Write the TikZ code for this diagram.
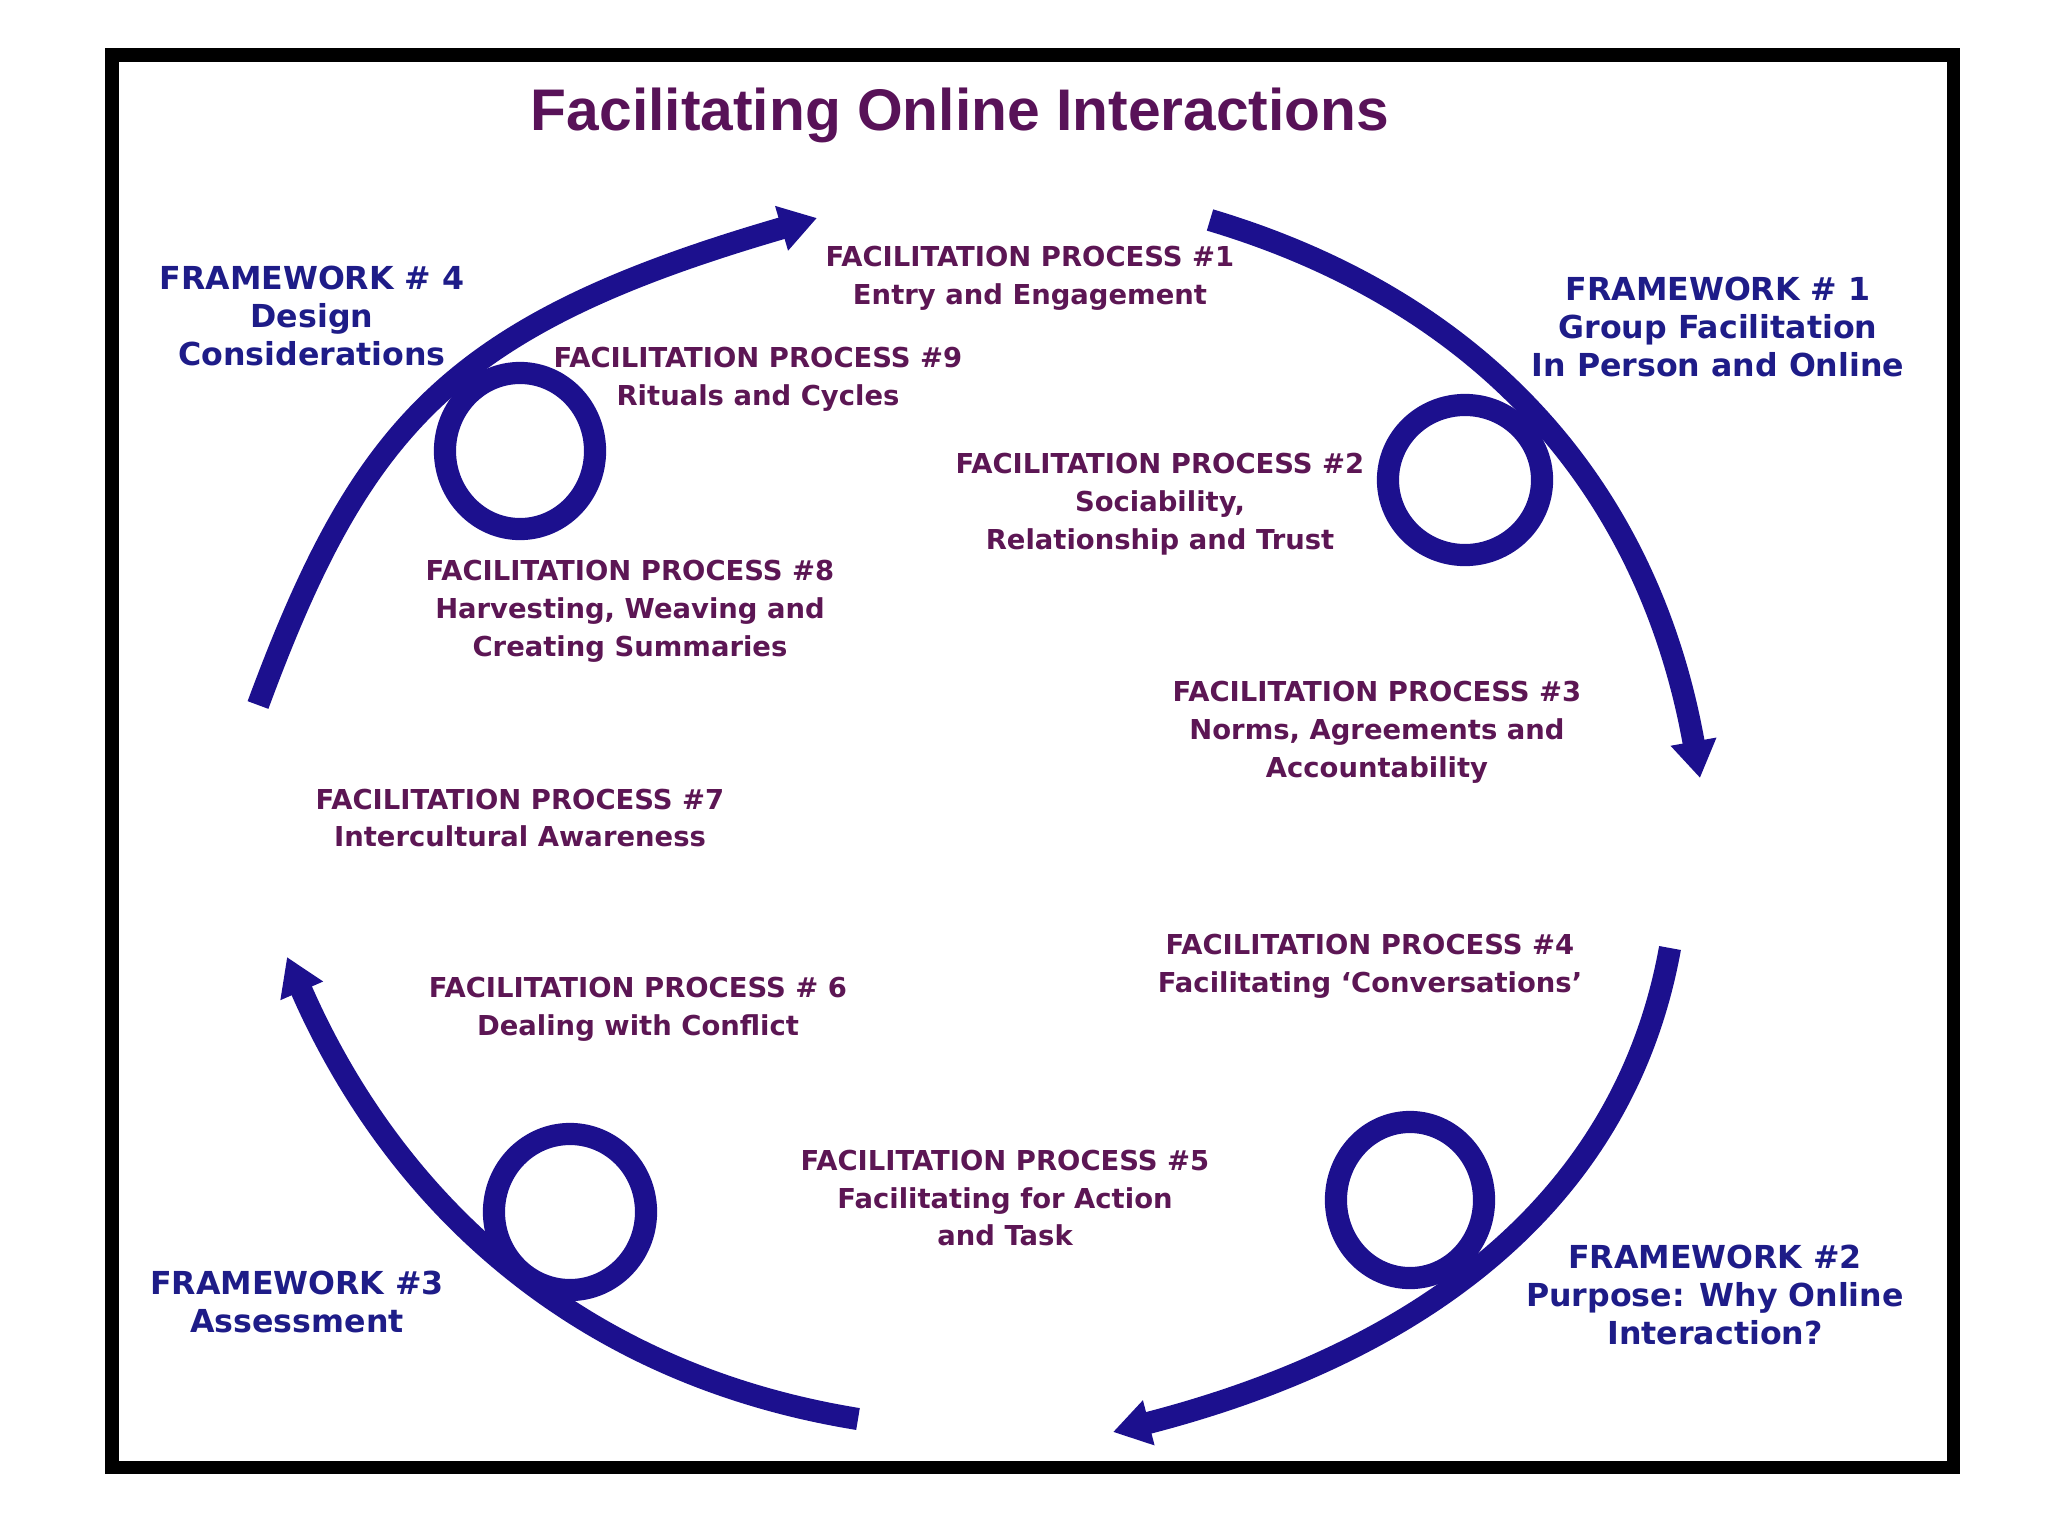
\documentclass[tikz,border=0pt]{standalone}
\usepackage{fontspec}
\usetikzlibrary{arrows.meta}
\newfontfamily\titlefont{Liberation Sans}
\newfontfamily\labelfont{DejaVu Sans}
\definecolor{ringblue}{RGB}{28,16,142}
\definecolor{fwblue}{RGB}{30,28,136}
\definecolor{procpurple}{RGB}{92,22,84}
\definecolor{titlepurple}{RGB}{88,18,88}

\begin{document}
\begin{tikzpicture}[x=0.01cm, y=-0.01cm,
        ring/.style={draw=ringblue, line width=6.3pt},
        ringarrow/.style={ring, -{Triangle[length=10.5pt, width=12.5pt]}},
        frame/.style={draw=black, line width=3.7pt},
        fw/.style={align=center, inner sep=0pt, text=fwblue, font=\labelfont\bfseries\fontsize{9pt}{10.7pt}\selectfont},
        proc/.style={align=center, inner sep=0pt, text=procpurple, font=\labelfont\bfseries\fontsize{7.8pt}{10.8pt}\selectfont},
        heading/.style={inner sep=0pt, text=titlepurple, font=\titlefont\bfseries\fontsize{16.7pt}{20pt}\selectfont}
    ]
        \useasboundingbox (0,0) rectangle (2048,1536);
        \draw[frame] (112,55) rectangle (1953,1467);

        % Title
        \node[heading, anchor=base] (title) at (960,130) {Facilitating Online Interactions};

        % Frameworks
        \node[fw] (fw1) at (1718,327) {FRAMEWORK \# 1\\Group Facilitation\\In Person and Online};
        \node[fw] (fw2) at (1715,1295) {FRAMEWORK \#2\\Purpose: Why Online\\Interaction?};
        \node[fw] (fw3) at (297,1302) {FRAMEWORK \#3\\Assessment};
        \node[fw] (fw4) at (312,316) {FRAMEWORK \# 4\\Design\\Considerations};

        % Facilitation processes
        \node[proc] (p1) at (1030,278) {FACILITATION PROCESS \#1\\Entry and Engagement};
        \node[proc] (p2) at (1160,504) {FACILITATION PROCESS \#2\\Sociability,\\Relationship and Trust};
        \node[proc] (p3) at (1377,732) {FACILITATION PROCESS \#3\\Norms, Agreements and\\Accountability};
        \node[proc] (p4) at (1370,966) {FACILITATION PROCESS \#4\\Facilitating ‘Conversations’};
        \node[proc] (p5) at (1005,1198) {FACILITATION PROCESS \#5\\Facilitating for Action\\and Task};
        \node[proc] (p6) at (638,1009) {FACILITATION PROCESS \# 6\\Dealing with Conflict};
        \node[proc] (p7) at (520,818) {FACILITATION PROCESS \#7\\Intercultural Awareness};
        \node[proc] (p8) at (630,611) {FACILITATION PROCESS \#8\\Harvesting, Weaving and\\Creating Summaries};
        \node[proc] (p9) at (758,379) {FACILITATION PROCESS \#9\\Rituals and Cycles};

        % Ring ends
        \coordinate (a1s) at (258,705);
        \coordinate (a1e) at (817,218);
        \coordinate (a2s) at (1210,220);
        \coordinate (a2e) at (1700,778);
        \coordinate (a3s) at (1670,948);
        \coordinate (a3e) at (1113,1432);
        \coordinate (a4s) at (858,1419);
        \coordinate (a4e) at (287,957);

        % Loops
        \coordinate (l1) at (520,451);
        \coordinate (l2) at (1465,480);
        \coordinate (l3) at (1410,1200);
        \coordinate (l4) at (570,1212);

        % Ring
        \draw[ringarrow] (a1s) .. controls (362,424) and (452,324) .. (a1e);
        \draw[ringarrow] (a2s) .. controls (1488,303) and (1649,493) .. (a2e);
        \draw[ringarrow] (a3s) .. controls (1622,1214) and (1404,1357) .. (a3e);
        \draw[ringarrow] (a4s) .. controls (562,1371) and (387,1186) .. (a4e);

        \draw[ring] (l1) ellipse [x radius=0.75cm, y radius=0.78cm];
        \draw[ring] (l2) ellipse [x radius=0.77cm, y radius=0.75cm];
        \draw[ring] (l3) ellipse [x radius=0.74cm, y radius=0.78cm];
        \draw[ring] (l4) ellipse [x radius=0.76cm, y radius=0.78cm];

    \end{tikzpicture}
\end{document}
